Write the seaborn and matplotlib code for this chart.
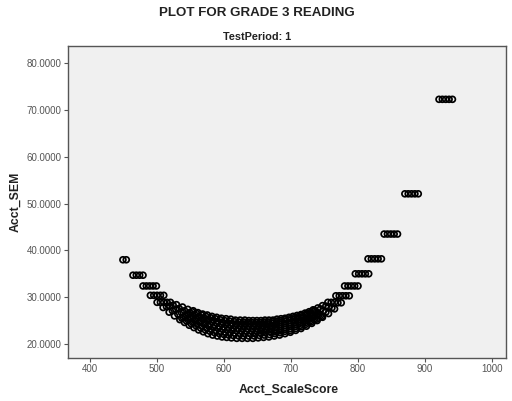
import matplotlib
matplotlib.use("Agg")
import matplotlib.pyplot as plt
import seaborn as sns
import pandas as pd

# Form A
score_a = [449, 464, 479, 490, 500, 509, 518, 526, 534, 541, 548, 555, 562, 569, 576, 583, 590, 597, 604, 611,
           619, 627, 635, 643, 651, 659, 667, 675, 683, 691, 699, 707, 715, 723, 731, 739, 747, 756, 765, 775,
           787, 800, 816, 835, 859, 890, 941]
sem_a = [38.0, 34.7, 32.4, 30.4, 28.9, 27.8, 26.8, 26.0, 25.2, 24.6, 24.0, 23.5, 23.0, 22.6, 22.2, 21.9, 21.7, 21.5,
         21.4, 21.3, 21.2, 21.2, 21.2, 21.2, 21.3, 21.4, 21.5, 21.7, 21.9, 22.2, 22.5, 22.9, 23.3, 23.8, 24.4, 25.0,
         25.7, 26.5, 27.5, 28.8, 30.3, 32.4, 35.0, 38.2, 43.5, 52.1, 72.3]
# Form B
score_b = [454, 469, 484, 495, 505, 514, 523, 531, 539, 546, 553, 560, 567, 574, 581, 588, 595, 602, 609, 616,
           624, 631, 639, 646, 654, 661, 669, 676, 684, 691, 699, 706, 714, 721, 729, 736, 744, 752, 761, 770,
           782, 795, 811, 830, 854, 885, 936]
sem_b = [38.0, 34.7, 32.4, 30.4, 28.9, 28.0, 27.1, 26.4, 25.7, 25.2, 24.6, 24.2, 23.8, 23.4, 23.1, 22.8, 22.6, 22.5,
         22.4, 22.3, 22.2, 22.2, 22.2, 22.2, 22.3, 22.4, 22.5, 22.6, 22.8, 23.1, 23.3, 23.7, 24.0, 24.5, 25.0, 25.5,
         26.1, 26.8, 27.7, 28.8, 30.3, 32.4, 35.0, 38.2, 43.5, 52.1, 72.3]
# Form C
score_c = [474, 489, 500, 510, 519, 528, 536, 544, 551, 558, 565, 572, 579, 586, 593, 600, 607, 614, 621,
           628, 635, 642, 649, 656, 663, 670, 677, 684, 691, 698, 705, 712, 719, 726, 733, 740, 748, 756, 765,
           777, 790, 806, 825, 849, 880, 931]
sem_c = [34.7, 32.4, 30.4, 28.9, 28.1, 27.4, 26.8, 26.2, 25.7, 25.3, 24.9, 24.5, 24.2, 23.9, 23.7, 23.6, 23.4, 23.3,
         23.3, 23.2, 23.2, 23.2, 23.2, 23.3, 23.3, 23.4, 23.6, 23.7, 23.9, 24.2, 24.5, 24.8, 25.1, 25.6, 26.0, 26.5,
         27.1, 27.9, 28.9, 30.3, 32.4, 35.0, 38.2, 43.5, 52.1, 72.3]
# Form D
score_d = [479, 494, 505, 515, 524, 533, 541, 549, 556, 563, 570, 577, 584, 591, 598, 605, 612, 619, 626,
           632, 639, 646, 652, 658, 665, 672, 678, 684, 691, 698, 704, 710, 717, 724, 730, 736, 744, 752, 760,
           772, 785, 801, 820, 844, 875, 926]
sem_d = [34.7, 32.4, 30.4, 28.9, 28.3, 27.6, 27.1, 26.7, 26.3, 25.9, 25.6, 25.3, 25.1, 24.8, 24.6, 24.5, 24.4, 24.3,
         24.3, 24.2, 24.2, 24.2, 24.2, 24.3, 24.3, 24.4, 24.5, 24.6, 24.8, 25.0, 25.2, 25.5, 25.8, 26.2, 26.5, 27.0,
         27.5, 28.1, 28.9, 30.3, 32.4, 35.0, 38.2, 43.5, 52.1, 72.3]
# Form E
score_e = [499, 510, 520, 529, 538, 546, 554, 561, 568, 575, 582, 589, 596, 603, 610, 617, 624, 631,
           637, 643, 649, 655, 661, 667, 673, 679, 685, 691, 697, 703, 709, 715, 721, 727, 733, 740, 747, 755,
           767, 780, 796, 815, 839, 870, 921]
sem_e = [32.4, 30.4, 28.9, 28.4, 27.9, 27.4, 27.1, 26.7, 26.4, 26.2, 25.9, 25.7, 25.5, 25.4, 25.3, 25.1, 25.1, 25.1,
         25.0, 25.0, 25.0, 25.0, 25.1, 25.1, 25.1, 25.3, 25.4, 25.5, 25.7, 25.9, 26.1, 26.3, 26.6, 26.9, 27.3, 27.7,
         28.2, 28.9, 30.3, 32.4, 35.0, 38.2, 43.5, 52.1, 72.3]
# Middle-band forms (dense central region)
score_f = [537, 544, 551, 558, 565, 572, 579, 586, 593, 600, 607, 614, 622, 629, 637, 645, 653, 660, 668, 676,
           684, 691, 699, 707, 715, 722, 730, 738, 746]
sem_f = [25.5, 24.9, 24.3, 23.9, 23.4, 23.0, 22.7, 22.4, 22.2, 22.0, 21.9, 21.8, 21.7, 21.7, 21.7, 21.7, 21.8, 21.9,
         22.0, 22.2, 22.4, 22.7, 22.9, 23.3, 23.7, 24.2, 24.7, 25.3, 25.9]
score_g = [542, 549, 556, 563, 570, 577, 584, 591, 598, 605, 612, 619, 626, 633, 641, 648, 655, 662, 670, 677,
           684, 691, 699, 706, 713, 720, 728, 735, 742]
sem_g = [26.0, 25.5, 25.0, 24.6, 24.2, 23.8, 23.5, 23.3, 23.1, 23.0, 22.9, 22.8, 22.7, 22.7, 22.7, 22.7, 22.8, 22.9,
         23.0, 23.1, 23.3, 23.5, 23.8, 24.1, 24.4, 24.8, 25.3, 25.8, 26.3]
score_h = [547, 554, 561, 568, 575, 582, 589, 596, 603, 610, 617, 624, 630, 637, 644, 651, 657, 664, 671, 678,
           684, 691, 698, 705, 711, 718, 725, 732, 738]
sem_h = [26.5, 26.0, 25.6, 25.3, 24.9, 24.7, 24.4, 24.2, 24.1, 23.9, 23.8, 23.8, 23.7, 23.7, 23.7, 23.7, 23.8, 23.8,
         23.9, 24.1, 24.2, 24.4, 24.6, 24.9, 25.2, 25.5, 25.9, 26.3, 26.8]
score_i = [552, 559, 566, 573, 580, 587, 594, 601, 608, 615, 622, 629, 635, 641, 648, 654, 660, 666, 673, 679,
           685, 691, 698, 704, 710, 716, 723, 729, 735]
sem_i = [26.9, 26.5, 26.2, 25.9, 25.6, 25.4, 25.2, 25.0, 24.9, 24.8, 24.7, 24.7, 24.6, 24.6, 24.6, 24.6, 24.7, 24.7,
         24.8, 24.9, 25.0, 25.2, 25.4, 25.6, 25.8, 26.1, 26.4, 26.7, 27.2]

x_ticks = [400, 500, 600, 700, 800, 900, 1000]
y_ticks = [20, 30, 40, 50, 60, 70, 80]

df = pd.DataFrame({
    "Acct_ScaleScore": score_a + score_b + score_c + score_d + score_e + score_f + score_g + score_h + score_i,
    "Acct_SEM": sem_a + sem_b + sem_c + sem_d + sem_e + sem_f + sem_g + sem_h + sem_i,
})

sns.set_style("white")
plt.rcParams["font.family"] = ["Liberation Sans", "DejaVu Sans"]

fig = plt.figure(figsize=(5.12, 4.01), dpi=100)
ax = fig.add_axes([68 / 512, 1 - 358 / 401, (506 - 68) / 512, (358 - 46) / 401])
ax.set_facecolor("#F0F0F0")

sns.scatterplot(data=df, x="Acct_ScaleScore", y="Acct_SEM", ax=ax, marker="o",
                facecolors="none", edgecolor="black", s=18, linewidth=1.25)

ax.set_xlim(367, 1021)
ax.set_ylim(17.0, 83.7)
ax.set_xticks(x_ticks)
ax.set_yticks(y_ticks)
ax.set_xticklabels([str(v) for v in x_ticks], fontsize=7, color="#555555")
ax.set_yticklabels([f"{v:.4f}" for v in y_ticks], fontsize=7, color="#555555")
ax.tick_params(axis="both", direction="out", length=3, width=0.8, color="#555555", pad=1.5)
ax.tick_params(axis="both", which="both", bottom=True, left=True)
for s in ax.spines.values():
    s.set_color("#555555")
    s.set_linewidth(1.0)

ax.set_xlabel("")
ax.set_ylabel("")
fig.text(289 / 512, 1 - 390 / 401, "Acct_ScaleScore", ha="center", va="center",
         fontsize=8.8, fontweight="bold", color="#222222")
fig.text(15 / 512, 1 - 202 / 401, "Acct_SEM", ha="center", va="center", rotation=90,
         fontsize=8.8, fontweight="bold", color="#222222")
fig.text(257 / 512, 1 - 13 / 401, "PLOT FOR GRADE 3 READING", ha="center", va="center",
         fontsize=9.6, fontweight="bold", color="#222222")
fig.text(257 / 512, 1 - 37 / 401, "TestPeriod: 1", ha="center", va="center",
         fontsize=7.8, fontweight="bold", color="#222222")

fig.savefig("out.png", dpi=100, facecolor="white")
